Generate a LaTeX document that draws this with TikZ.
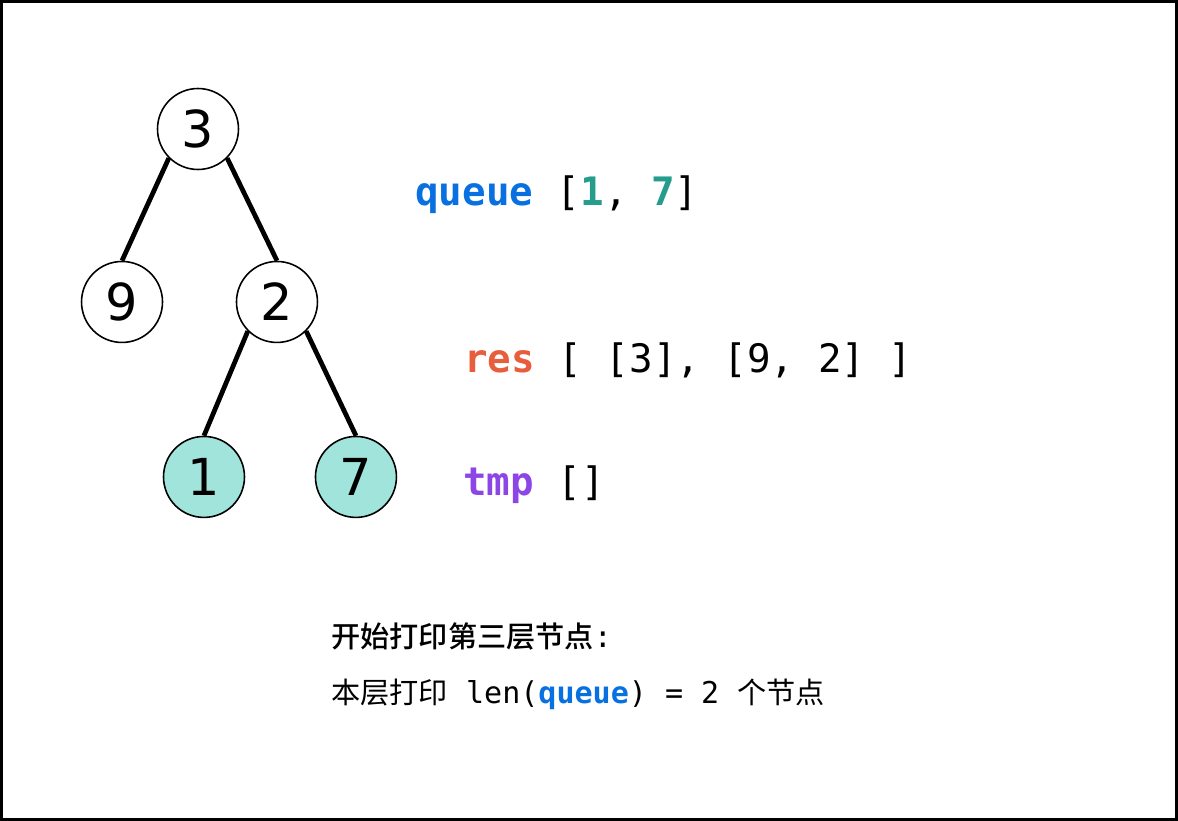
\documentclass[tikz,border=0pt]{standalone}
\usepackage{fontspec}
\usepackage{tikz}
\usepackage{xcolor}
\usetikzlibrary{positioning}
\setmainfont{DejaVu Sans}
\newfontfamily\codefont{DejaVu Sans Mono}
\newfontfamily\cjk{Noto Sans CJK SC}
\newfontfamily\cjkmed{Noto Sans CJK SC Medium}
\definecolor{cQueue}{RGB}{8,112,224}
\definecolor{cTeal}{RGB}{38,157,140}
\definecolor{cRes}{RGB}{232,93,60}
\definecolor{cTmp}{RGB}{140,70,230}
\definecolor{cFill}{RGB}{160,228,220}
\tikzset{
    treenode/.style={circle, draw=black, line width=0.9pt, minimum size=1.62cm, inner sep=0pt, fill=white, font=\fontsize{29}{32}\selectfont},
    hlnode/.style  ={treenode, fill=cFill},
    edge/.style    ={line width=2.7pt, black},
    codeline/.style={anchor=base west, inner sep=0pt, font=\codefont\fontsize{22.3}{26}\selectfont},
    noteline/.style={anchor=base west, inner sep=0pt, font=\fontsize{16.6}{20}\selectfont},
}
\newcommand{\kw}[2]{{\bfseries\color{#1}#2}}
\newcommand{\mono}[1]{{\codefont\fontsize{17.1}{20}\selectfont #1}}

\begin{document}
\begin{tikzpicture}[x=0.02cm, y=-0.02cm, node distance=1cm, on grid]
        \useasboundingbox (0,0) rectangle (1178,821);
        \draw[line width=1.7pt] (1.5,1.5) rectangle (1176.5,819.5);
        % tree
        \node[treenode] (n3) at (198,129) {3};
        \node[treenode, below left=3.46cm and 1.52cm of n3] (n9) {9};
        \node[treenode, below right=3.46cm and 1.58cm of n3] (n2) {2};
        \node[hlnode, below left=3.5cm and 1.46cm of n2] (n1) {1};
        \node[hlnode, below right=3.5cm and 1.58cm of n2] (n7) {7};
        \draw[edge] (n3.south west) -- (n9.north);
        \draw[edge] (n3.south east) -- (n2.north);
        \draw[edge] (n2.south west) -- (n1.north);
        \draw[edge] (n2.south east) -- (n7.north);
        % state
        \node[codeline] (queue) at (415,206) {\kw{cQueue}{queue} [\kw{cTeal}{1}, \kw{cTeal}{7}]};
        \node[codeline] (res) at (464,373) {\kw{cRes}{res} [ [3], [9, 2] ]};
        \node[codeline] (tmp) at (463,495) {\kw{cTmp}{tmp} []};
        % notes
        \node[noteline] (title) at (331,647) {{\cjkmed 开始打印第三层节点}\mono{:}};
        \node[noteline] (count) at (331,703) {{\cjk 本层打印}\mono{ len(\kw{cQueue}{queue}) = 2 }{\cjk 个节点}};
\end{tikzpicture}
\end{document}
